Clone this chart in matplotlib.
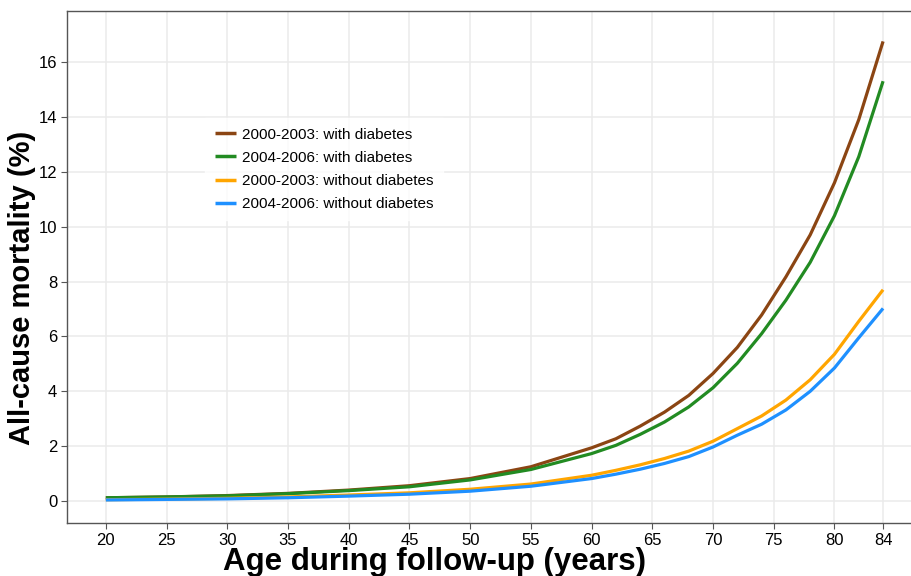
import matplotlib
matplotlib.use("Agg")
import matplotlib.pyplot as plt

plt.rcParams['font.family'] = ['Liberation Sans', 'DejaVu Sans']

# ages
age = [20, 25, 30, 35, 40, 45, 50, 55, 60, 62, 64, 66, 68, 70, 72, 74, 76, 78, 80, 82, 84]

dm_0003 = [0.12, 0.15, 0.20, 0.28, 0.40, 0.56, 0.82, 1.25, 1.94, 2.27, 2.73, 3.24, 3.85,
           4.65, 5.60, 6.78, 8.17, 9.70, 11.6, 13.9, 16.75]
dm_0406 = [0.12, 0.15, 0.19, 0.27, 0.38, 0.52, 0.77, 1.15, 1.73, 2.03, 2.43, 2.88, 3.43,
           4.13, 5.02, 6.10, 7.32, 8.70, 10.4, 12.55, 15.3]
nodm_0003 = [0.05, 0.07, 0.10, 0.15, 0.22, 0.30, 0.43, 0.62, 0.94, 1.12, 1.32, 1.55, 1.82,
             2.18, 2.64, 3.10, 3.68, 4.42, 5.35, 6.55, 7.7]
nodm_0406 = [0.04, 0.06, 0.08, 0.12, 0.18, 0.25, 0.36, 0.54, 0.82, 0.98, 1.16, 1.37, 1.62,
             1.97, 2.40, 2.80, 3.32, 4.00, 4.85, 5.95, 7.02]

labels = ['2000-2003: with diabetes', '2004-2006: with diabetes',
          '2000-2003: without diabetes', '2004-2006: without diabetes']
colors = ['#8B4513', '#228B22', '#FFA500', '#1E90FF']

xticks = [20, 25, 30, 35, 40, 45, 50, 55, 60, 65, 70, 75, 80, 84]
yticks = [0, 2, 4, 6, 8, 10, 12, 14, 16]

fig = plt.figure(figsize=(9.11, 5.76), dpi=100)
ax = fig.add_axes([0.0735, 0.092, 0.9265, 0.889])

for ys, lab, c in zip([dm_0003, dm_0406, nodm_0003, nodm_0406], labels, colors):
    ax.plot(age, ys, color=c, lw=2.3, label=lab, solid_capstyle='butt')

ax.set_xlim(16.8, 86.3)
ax.set_ylim(-0.8, 17.86)
ax.set_xticks(xticks)
ax.set_yticks(yticks)
ax.grid(True, color='#ebebeb', lw=1.1)
ax.set_axisbelow(True)

for s in ['top', 'left', 'bottom']:
    ax.spines[s].set_color('#555555')
    ax.spines[s].set_linewidth(1.0)
ax.spines['right'].set_visible(False)
ax.tick_params(axis='both', length=4, color='#555555', labelsize=12, labelcolor='black', pad=3)

ax.set_xlabel('Age during follow-up (years)', fontsize=22.5, fontweight='bold')
ax.xaxis.set_label_coords(0.435, -0.046)
ax.set_ylabel('All-cause mortality (%)', fontsize=21, fontweight='bold')
ax.yaxis.set_label_coords(-0.037, 0.459)

leg = ax.legend(loc='upper left', bbox_to_anchor=(0.155, 0.805), fontsize=11,
                handlelength=1.4, handletextpad=0.4, labelspacing=0.6,
                frameon=True, fancybox=False, borderpad=0.6)
leg.get_frame().set_facecolor('white')
leg.get_frame().set_edgecolor('white')
for h in leg.get_lines():
    h.set_linewidth(2.5)

fig.savefig('out.png', dpi=100)
